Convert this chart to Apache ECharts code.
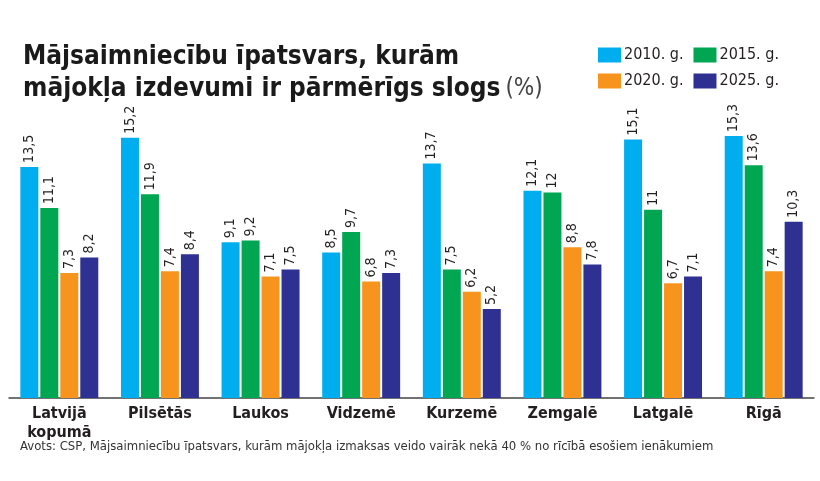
<!DOCTYPE html>
<html>
<head>
<meta charset="utf-8">
<script src="https://cdn.jsdelivr.net/npm/echarts@6/dist/echarts.min.js"></script>
<style>
  html, body { margin: 0; padding: 0; background: #fff; }
  #main { width: 820px; height: 481px; }
</style>
</head>
<body>
<div id="main"></div>
<script>
const categories = ['Latvijā\nkopumā', 'Pilsētās', 'Laukos', 'Vidzemē', 'Kurzemē', 'Zemgalē', 'Latgalē', 'Rīgā'];
const years = ['2010. g.', '2015. g.', '2020. g.', '2025. g.'];
const v2010 = [13.5, 15.2, 9.1, 8.5, 13.7, 12.1, 15.1, 15.3];
const v2015 = [11.1, 11.9, 9.2, 9.7, 7.5, 12, 11, 13.6];
const v2020 = [7.3, 7.4, 7.1, 6.8, 6.2, 8.8, 6.7, 7.4];
const v2025 = [8.2, 8.4, 7.5, 7.3, 5.2, 7.8, 7.1, 10.3];
const colors = ['#00aeef', '#00a651', '#f7941d', '#2e3192'];

const font = 'DejaVu Sans Condensed';
const chart = echarts.init(document.getElementById('main'));

function makeSeries(name, data, color) {
  return {
    name: name,
    type: 'bar',
    data: data,
    barWidth: 18,
    barGap: '11%',
    itemStyle: { color: color },
    label: {
      show: true,
      position: 'top',
      rotate: 90,
      align: 'left',
      verticalAlign: 'middle',
      distance: 4,
      fontFamily: font,
      fontSize: 14,
      color: '#231f20',
      formatter: p => String(p.value).replace('.', ',')
    }
  };
}

chart.setOption({
  animation: false,
  title: {
    text: '{b|Mājsaimniecību īpatsvars, kurām}\n{b|mājokļa izdevumi ir pārmērīgs slogs} {l|(%)}',
    left: 18,
    top: 36,
    textStyle: {
      rich: {
        b: { fontFamily: font, fontWeight: 'bold', fontSize: 26, color: '#1a1a1a', lineHeight: 32 },
        l: { fontFamily: font, fontWeight: 'normal', fontSize: 24, color: '#444', lineHeight: 32 }
      }
    }
  },
  legend: {
    data: [years[0], years[1], years[2], years[3]],
    orient: 'horizontal',
    left: 593,
    top: 42,
    width: 200,
    itemWidth: 23,
    itemHeight: 15,
    itemGap: 10,
    icon: 'rect',
    textStyle: { fontFamily: font, fontSize: 16, color: '#231f20', padding: [0, 0, 0, -2] }
  },
  grid: { left: 9, right: 6, top: 55.6, bottom: 83 },
  xAxis: {
    type: 'category',
    data: categories,
    axisLine: { lineStyle: { color: '#444', width: 1.5 } },
    axisTick: { show: false },
    axisLabel: {
      fontFamily: font,
      fontWeight: 'bold',
      fontSize: 16,
      color: '#231f20',
      lineHeight: 19,
      margin: 6
    }
  },
  yAxis: {
    type: 'value',
    min: 0,
    max: 20,
    show: false,
    splitLine: { show: false }
  },
  graphic: [{
    type: 'text',
    left: 20,
    top: 440,
    style: {
      text: 'Avots: CSP, Mājsaimniecību īpatsvars, kurām mājokļa izmaksas veido vairāk nekā 40 % no rīcībā esošiem ienākumiem',
      fontFamily: font,
      fontSize: 13,
      fill: '#333'
    }
  }],
  series: [
    makeSeries(years[0], v2010, colors[0]),
    makeSeries(years[1], v2015, colors[1]),
    makeSeries(years[2], v2020, colors[2]),
    makeSeries(years[3], v2025, colors[3])
  ]
});
</script>
</body>
</html>
